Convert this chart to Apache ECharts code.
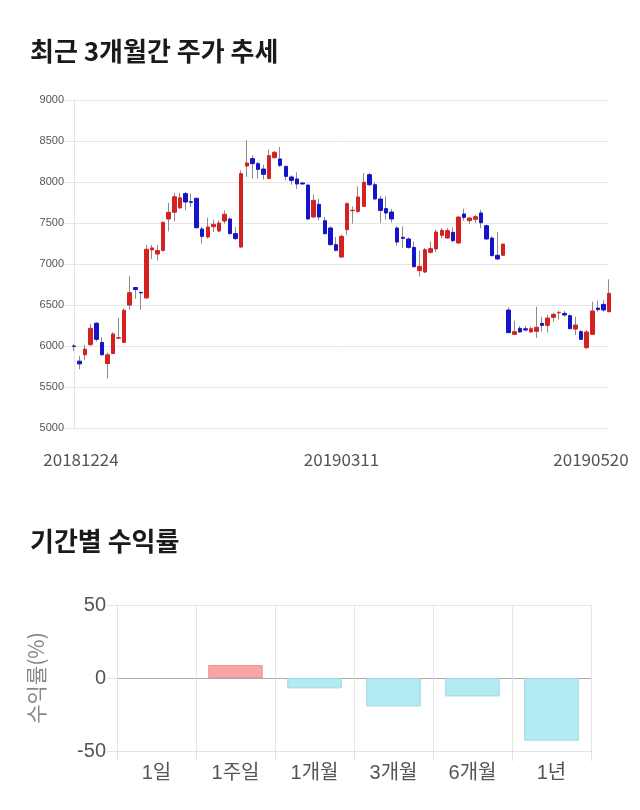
<!DOCTYPE html>
<html><head><meta charset="utf-8">
<script src="https://cdn.jsdelivr.net/npm/echarts@6/dist/echarts.min.js"></script>
<style>html,body{margin:0;padding:0;background:#fff}#c{width:640px;height:810px}</style>
</head><body><div id="c"></div>
<script>
const dates = [
'20181224','20181226','20181227','20181228',
'20190102','20190103','20190104','20190107','20190108','20190109','20190110','20190111','20190114','20190115','20190116','20190117','20190118','20190121','20190122','20190123','20190124','20190125','20190128','20190129','20190130','20190131',
'20190201','20190207','20190208','20190211','20190212','20190213','20190214','20190215','20190218','20190219','20190220','20190221','20190222','20190225','20190226','20190227','20190228',
'20190304','20190305','20190306','20190307','20190308','20190311','20190312','20190313','20190314','20190315','20190318','20190319','20190320','20190321','20190322','20190325','20190326','20190327','20190328','20190329',
'20190401','20190402','20190403','20190404','20190405','20190408','20190409','20190410','20190411','20190412','20190415','20190416','20190417','20190418','20190419','20190422','20190423','20190424','20190425','20190426','20190429','20190430',
'20190502','20190503','20190507','20190508','20190509','20190510','20190513','20190514','20190515','20190516','20190517','20190520'];
const openP = [6000,5815,5893,6016,6278,6044,5786,5909,6095,6044,6499,6713,6655,6586,7172,7122,7164,7549,7631,7684,
7858,7760,7801,7427,7329,7455,7402,7524,7549,7370,7207,8195,8285,8224,8158,8041,8297,8281,8191,8061,
8037,7988,7963,7573,7728,7528,7439,7236,7085,7419,7650,7642,7703,8089,7967,7793,7675,7634,7439,7325,
7305,7203,6919,6902,7142,7183,7350,7317,7386,7256,7610,7528,7545,7622,7467,7317,7106,7106,6439,6142,
6215,6210,6171,6179,6276,6252,6350,6405,6398,6370,6207,6175,5980,6142,6463,6508,6419];
const closeP = [5995,5782,5962,6216,6081,5893,5893,6147,6100,6434,6651,6688,6648,7180,7196,7164,7508,7631,7820,7807,
7756,7752,7443,7337,7451,7484,7500,7606,7370,7309,8102,8232,8224,8154,8094,8321,8362,8203,8069,8020,
7976,7976,7549,7776,7573,7370,7236,7167,7337,7736,7656,7817,7996,7967,7793,7654,7622,7549,7268,7313,
7203,6967,6972,7175,7187,7390,7411,7407,7285,7573,7569,7561,7577,7504,7305,7102,7061,7244,6163,6175,
6171,6195,6211,6228,6252,6341,6386,6410,6378,6211,6256,6081,6171,6427,6443,6439,6642];
const lowP = [5940,5716,5827,6003,6057,5880,5606,5900,6090,6036,6442,6577,6442,6578,7061,7041,7155,7397,7520,7672,
7654,7695,7431,7248,7309,7390,7390,7492,7362,7297,7199,8061,8041,8041,8028,8037,8285,8183,8020,7967,
7915,7967,7541,7561,7533,7358,7224,7154,7073,7358,7492,7622,7695,7947,7785,7500,7541,7508,7224,7195,
7187,6959,6850,6890,7130,7146,7317,7309,7264,7244,7528,7488,7500,7439,7297,7094,7049,7106,6155,6134,
6163,6175,6163,6098,6175,6163,6297,6325,6358,6203,6134,6073,5963,6134,6419,6419,6411];
const highP = [6020,5880,6016,6270,6290,6106,5921,6167,6344,6462,6852,6721,6660,7233,7233,7233,7520,7746,7869,7869,
7878,7858,7809,7451,7565,7541,7532,7654,7565,7451,8142,8508,8325,8244,8211,8394,8378,8427,8191,8081,
8118,7996,7967,7846,7793,7573,7459,7329,7358,7752,7703,7947,8110,8110,7996,7833,7825,7671,7459,7459,
7325,7276,7163,7195,7276,7419,7439,7439,7447,7581,7675,7569,7602,7663,7480,7337,7390,7244,6472,6309,
6244,6244,6236,6480,6358,6378,6406,6430,6430,6386,6358,6195,6195,6541,6553,6561,6813];
const priceMin = 5000, priceMax = 9000, priceStep = 500;

const periods = ['1일','1주일','1개월','3개월','6개월','1년'];
const returns = [0, 8.9, -7.1, -19.4, -12.6, -42.9];
const retMin = -50, retMax = 50, retStep = 50;

const UP = '#d42222', DOWN = '#1414c8', WICK = '#8c8c8c';
const POS_FILL = '#f8a5a5', POS_LINE = '#f09696', NEG_FILL = '#b3ebf3', NEG_LINE = '#a0d6df';
const lastDate = dates[dates.length - 1], firstDate = dates[0];
const lblFont = {fontSize: 17, color: '#555', fontFamily: 'Noto Sans CJK KR'};

const chart = echarts.init(document.getElementById('c'), null, {renderer: 'canvas'});
chart.setOption({
  animation: false,
  backgroundColor: '#fff',
  title: [
    {text: '최근 3개월간 주가 추세', left: 30, top: 38, padding: 0,
     textStyle: {fontSize: 26, fontWeight: 'bold', color: '#1a1a1a', fontFamily: 'Noto Sans CJK KR'}},
    {text: '기간별 수익률', left: 30, top: 528, padding: 0,
     textStyle: {fontSize: 26, fontWeight: 'bold', color: '#1a1a1a', fontFamily: 'Noto Sans CJK KR'}}
  ],
  grid: [
    {left: 74, right: 31, top: 100, bottom: 382},
    {left: 117, right: 49, top: 605, bottom: 59}
  ],
  xAxis: [
    {type: 'category', gridIndex: 0, data: dates, boundaryGap: false,
     axisLine: {show: false}, axisTick: {show: false}, splitLine: {show: false},
     axisLabel: {interval: 47, margin: 23, ...lblFont,
       formatter: v => v === lastDate ? '{r|' + v + '}' : (v === firstDate ? '{l|' + v + '}' : '{m|' + v + '}'),
       rich: {l: {...lblFont, padding: [0, 0, 0, 14]}, m: {...lblFont}, r: {...lblFont, padding: [0, 36, 0, 0]}}}},
    {type: 'category', gridIndex: 1, data: periods,
     axisLine: {show: true, onZero: false, lineStyle: {color: '#e2e2e2'}},
     axisTick: {show: true, length: 10, lineStyle: {color: '#e2e2e2'}},
     splitLine: {show: true, lineStyle: {color: '#e6e6e6'}},
     axisLabel: {fontSize: 20, color: '#555', margin: 12, fontFamily: 'Liberation Sans, Noto Sans CJK KR'}}
  ],
  yAxis: [
    {type: 'value', gridIndex: 0, min: priceMin, max: priceMax, interval: priceStep,
     axisLine: {show: true, lineStyle: {color: '#e2e2e2'}},
     axisTick: {show: true, length: 9, lineStyle: {color: '#e6e6e6'}},
     splitLine: {lineStyle: {color: '#e6e6e6'}},
     axisLabel: {fontSize: 11, color: '#555', margin: 10, fontFamily: 'Liberation Sans', formatter: v => String(v)}},
    {type: 'value', gridIndex: 1, min: retMin, max: retMax, interval: retStep,
     axisLine: {show: true, lineStyle: {color: '#e2e2e2'}},
     axisTick: {show: true, length: 10, lineStyle: {color: '#e2e2e2'}},
     splitLine: {lineStyle: {color: ['#e6e6e6', '#aaaaaa', '#e6e6e6']}},
     axisLabel: {fontSize: 20, color: '#555', margin: 11, fontFamily: 'Liberation Sans', formatter: v => String(v)},
     name: '수익률(%)', nameLocation: 'middle', nameRotate: 90, nameGap: 70,
     nameTextStyle: {fontSize: 21, color: '#888', fontFamily: 'Noto Sans CJK KR'}}
  ],
  series: [
    {type: 'candlestick', xAxisIndex: 0, yAxisIndex: 0, barWidth: 1, silent: true,
     data: dates.map((d, i) => [openP[i], closeP[i], lowP[i], highP[i]]),
     itemStyle: {color: WICK, color0: WICK, borderColor: WICK, borderColor0: WICK, borderWidth: 1}},
    {type: 'candlestick', xAxisIndex: 0, yAxisIndex: 0, barWidth: 4, silent: true,
     data: dates.map((d, i) => [openP[i], closeP[i], Math.min(openP[i], closeP[i]), Math.max(openP[i], closeP[i])]),
     itemStyle: {color: UP, color0: DOWN, borderColor: UP, borderColor0: DOWN, borderWidth: 1}},
    {type: 'bar', xAxisIndex: 1, yAxisIndex: 1, barCategoryGap: '31%', silent: true,
     data: returns.map(v => ({
       value: v,
       itemStyle: v === 0 ? {borderWidth: 0, color: POS_FILL}
         : {color: v > 0 ? POS_FILL : NEG_FILL, borderColor: v > 0 ? POS_LINE : NEG_LINE, borderWidth: 1}
     }))}
  ]
});
</script></body></html>
